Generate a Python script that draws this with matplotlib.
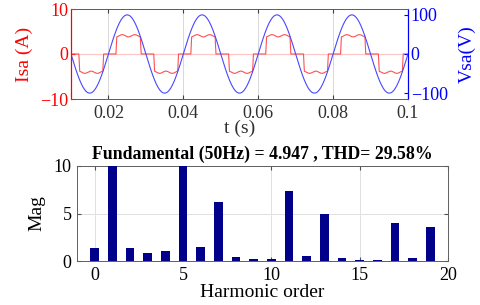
import numpy as np
import matplotlib
matplotlib.use("Agg")
import matplotlib.pyplot as plt

# ---- data ----
f0 = 50.0                # supply frequency (Hz)
v_peak = 100.0           # source voltage peak (V)
i_level = 4.05           # DC-link current level (A)
i_ripple = 0.25          # 300 Hz ripple amplitude (A)
pos_on, pos_off = 0.0020, 0.0087   # positive conduction block within a period (s)
neg_on, neg_off = 0.0121, 0.0187   # negative conduction block within a period (s)
edge = 0.0002            # switching edge duration (s)
t_start, t_end = 0.01, 0.1

harm_order = list(range(20))
harm_mag = [1.4, 10.0, 1.33, 0.82, 1.05, 10.0, 1.47, 6.25, 0.45, 0.2,
            0.2, 7.35, 0.5, 4.9, 0.28, 0.13, 0.13, 3.95, 0.3, 3.55]
title_txt = "Fundamental (50Hz) = 4.947 , THD= 29.58%"

# ---- signals ----
T = 1.0 / f0
t = np.linspace(t_start, t_end, 6000)
ph = np.mod(t, T)

def gate(p, on, off):
    return np.clip(np.minimum((p - on) / edge, (off - p) / edge), 0, 1)

center = (pos_on + pos_off) / 2
ripple = i_level - i_ripple * np.cos(2 * np.pi * 6 * f0 * (ph - center))
isa = (gate(ph, pos_on, pos_off) - gate(ph, neg_on, neg_off)) * ripple
vsa = v_peak * np.sin(2 * np.pi * f0 * t)

plt.rcParams['font.family'] = ['Liberation Serif', 'DejaVu Serif']
plt.rcParams['xtick.direction'] = 'in'
plt.rcParams['ytick.direction'] = 'in'

fig = plt.figure(figsize=(4.8, 3.05), dpi=100)
fs = 13
fl = 14

# ---- top axes ----
ax = fig.add_axes([71/480, 1 - 99/305, 337/480, 90/305])
ax.plot(t, isa, color='#ff5050', lw=0.8, zorder=3)
ax.axhline(0, color='#ffc8c8', lw=0.9, zorder=1)
ax.set_xlim(t_start, t_end)
ax.set_ylim(-10, 10)
ax.set_xticks([0.02, 0.04, 0.06, 0.08, 0.1])
ax.set_xticklabels(['0.02', '0.04', '0.06', '0.08', '0.1'])
ax.set_yticks([-10, 0, 10])
ax.grid(axis='x', color='#d8d8d8', lw=0.7)
ax.tick_params(axis='y', colors='red', labelsize=fs, length=3, pad=2)
ax.tick_params(axis='x', colors='#404040', labelsize=fs, length=3, top=True,
               labelcolor='#303030', pad=4)
ax.set_ylabel('Isa (A)', color='red', fontsize=fl, labelpad=5)
ax.set_xlabel('t (s)', fontsize=fl, color='#303030', labelpad=-1)
for s in ['top', 'bottom']:
    ax.spines[s].set_color('#606060')
    ax.spines[s].set_linewidth(0.7)
ax.spines['left'].set_color('red')
ax.spines['right'].set_color('blue')

ax2 = ax.twinx()
ax2.plot(t, vsa, color='#4848ff', lw=0.8, zorder=2)
ax2.set_ylim(-115, 115)
ax2.set_yticks([-100, 0, 100])
ax2.tick_params(axis='y', colors='blue', labelsize=fs, length=3, pad=2)
ax2.set_ylabel('Vsa(V)', color='blue', fontsize=fl, labelpad=8)
ax2.spines['right'].set_color('blue')
ax2.spines['left'].set_color('red')
for s in ['top', 'bottom']:
    ax2.spines[s].set_color('#606060')
    ax2.spines[s].set_linewidth(0.7)

# ---- bottom axes ----
bx = fig.add_axes([77/480, 1 - 261/305, 371/480, 95/305])
bx.bar(harm_order, harm_mag, width=0.5, color='#00008b', zorder=3)
bx.set_xlim(-1, 20)
bx.set_ylim(0, 10)
bx.set_xticks([0, 5, 10, 15, 20])
bx.set_yticks([0, 5, 10])
bx.grid(color='#e0e0e0', lw=0.7, zorder=0)
bx.tick_params(labelsize=fs, length=3, colors='#505050', labelcolor='black',
               top=True, right=True, pad=4)
for s in bx.spines.values():
    s.set_color('#606060')
    s.set_linewidth(0.7)
bx.set_ylabel('Mag', fontsize=fl, labelpad=6)
bx.set_xlabel('Harmonic order', fontsize=fl, labelpad=0)
bx.set_title(title_txt, fontsize=12.8, fontweight='bold', pad=5)

fig.savefig('out.png', dpi=100)
